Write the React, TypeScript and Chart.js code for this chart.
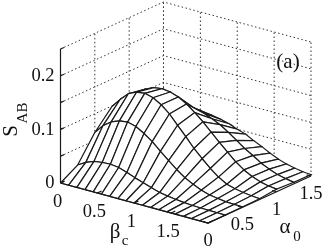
import React, { useEffect, useRef } from "react";
import { Chart, registerables } from "chart.js";

Chart.register(...registerables);

// surface heights S_AB, rows by alpha0, columns by beta_c
const alphaGrid = [0, 0.25, 0.5, 0.75, 1, 1.25, 1.5];
const betaGrid = [0, 0.111, 0.222, 0.333, 0.444, 0.556, 0.667, 0.778, 0.889, 1, 1.111, 1.222, 1.333, 1.444, 1.556, 1.667, 1.778, 1.889, 2];
const sAlpha000 = [0, 0, 0, 0, 0, 0, 0, 0, 0, 0, 0, 0, 0, 0, 0, 0, 0, 0, 0];
const sAlpha025 = [0.019, 0.028, 0.034, 0.036, 0.037, 0.035, 0.03, 0.024, 0.019, 0.014, 0.009, 0.0065, 0.0043, 0.0026, 0.0015, 0.0009, 0.0006, 0.0004, 0.0002];
const sAlpha050 = [0.065, 0.082, 0.093, 0.099, 0.101, 0.097, 0.088, 0.077, 0.063, 0.05, 0.037, 0.026, 0.018, 0.011, 0.0065, 0.004, 0.002, 0.0013, 0.0007];
const sAlpha075 = [0.099, 0.116, 0.131, 0.138, 0.14, 0.136, 0.127, 0.114, 0.097, 0.08, 0.062, 0.047, 0.033, 0.021, 0.012, 0.0075, 0.0047, 0.0028, 0.0015];
const sAlpha100 = [0.106, 0.116, 0.125, 0.132, 0.134, 0.132, 0.127, 0.118, 0.106, 0.093, 0.078, 0.063, 0.049, 0.035, 0.024, 0.016, 0.01, 0.0065, 0.0047];
const sAlpha125 = [0.099, 0.099, 0.099, 0.097, 0.095, 0.093, 0.09, 0.086, 0.08, 0.073, 0.063, 0.052, 0.041, 0.032, 0.022, 0.015, 0.009, 0.0056, 0.0028];
const sAlpha150 = [0.086, 0.078, 0.073, 0.069, 0.067, 0.065, 0.063, 0.06, 0.056, 0.05, 0.045, 0.037, 0.03, 0.022, 0.015, 0.01, 0.0065, 0.0037, 0.0028];
const surface = [sAlpha000, sAlpha025, sAlpha050, sAlpha075, sAlpha100, sAlpha125, sAlpha150];

const betaTicks = [0, 0.5, 1, 1.5, 2];
const betaLabels = ["0", "0.5", "1", "1.5", ""];
const alphaTicks = [0, 0.5, 1, 1.5];
const alphaLabels = ["0", "0.5", "1", "1.5"];
const zTicks = [0, 0.05, 0.1, 0.15, 0.2, 0.25];
const zLabels: Record<string, string> = { "0": "0", "0.1": "0.1", "0.2": "0.2" };

const BMAX = 2, AMAX = 1.5, ZMAX = 0.25;
// orthographic projection of (beta, alpha, z) into the scale's 327x250 plane
const project = (b: number, a: number, z: number) => ({
  x: 60.5 + (b / BMAX) * 147.5 + (a / AMAX) * 103,
  y: 183 + (b / BMAX) * 40 - (a / AMAX) * 47 - (z / ZMAX) * 134,
});

const INK = "#1a1a1a";
const line = (pts: { x: number; y: number }[], o: any = {}) => ({
  data: pts, showLine: true, pointRadius: 0, borderColor: INK, borderWidth: 1.2, tension: 0, fill: false, clip: false, ...o,
});

function buildDatasets() {
  const out: any[] = [];
  // axes lines and ticks (on top)
  out.push(line([project(0, 0, 0), project(0, 0, ZMAX)]));
  out.push(line([project(0, 0, 0), project(BMAX, 0, 0), project(BMAX, AMAX, 0)]));
  zTicks.forEach((z) => out.push(line([project(0, 0, z), project(0, 0.05, z)])));
  betaTicks.forEach((b) => out.push(line([project(b, 0, 0), project(b, 0.06, 0)])));
  alphaTicks.forEach((a) => out.push(line([project(BMAX, a, 0), project(BMAX - 0.06, a, 0)])));
  // surface quads, nearest first so the farthest paint first
  for (let i = 0; i < alphaGrid.length - 1; i++) {
    for (let j = betaGrid.length - 2; j >= 0; j--) {
      const q = [
        project(betaGrid[j], alphaGrid[i], surface[i][j]),
        project(betaGrid[j + 1], alphaGrid[i], surface[i][j + 1]),
        project(betaGrid[j + 1], alphaGrid[i + 1], surface[i + 1][j + 1]),
        project(betaGrid[j], alphaGrid[i + 1], surface[i + 1][j]),
      ];
      out.push(line([...q, q[0]], { fill: "shape", backgroundColor: "#ffffff" }));
    }
  }
  // dotted walls
  const dot = { borderDash: [1.5, 2.5], borderWidth: 1, borderColor: "#333333" };
  zTicks.slice(1).forEach((z) => {
    out.push(line([project(0, 0, z), project(0, AMAX, z), project(BMAX, AMAX, z)], dot));
  });
  [0.5, 1, 1.5].forEach((a) => out.push(line([project(0, a, 0), project(0, a, ZMAX)], dot)));
  [0, 0.5, 1, 1.5, 2].forEach((b) => out.push(line([project(b, AMAX, 0), project(b, AMAX, ZMAX)], dot)));
  return out;
}

const labelsPlugin = {
  id: "labels3d",
  afterDraw(chart: any) {
    const { ctx, scales } = chart;
    const px = (p: { x: number; y: number }) => ({ x: scales.x.getPixelForValue(p.x), y: scales.y.getPixelForValue(p.y) });
    const serif = (s: number) => `${s}px "Liberation Serif"`;
    ctx.save();
    ctx.fillStyle = "#111111";
    ctx.textBaseline = "middle";
    ctx.font = serif(18.5);
    ctx.textAlign = "right";
    zTicks.forEach((z) => {
      const t = zLabels[String(z)];
      if (t) { const p = px(project(0, 0, z)); ctx.fillText(t, p.x - 6, p.y + 0.5); }
    });
    ctx.textAlign = "center";
    betaTicks.forEach((b, i) => {
      const p = px(project(b, 0, 0));
      ctx.fillText(betaLabels[i], p.x - 3, p.y + 19);
    });
    alphaTicks.forEach((a, i) => {
      const p = px(project(BMAX, a, 0));
      ctx.fillText(alphaLabels[i], p.x + 0, p.y + 18);
    });
    ctx.font = serif(21);
    ctx.fillText("(a)", 288, 62);
    ctx.font = serif(21);
    ctx.fillText("\u03b2", 115, 232);
    ctx.fillText("\u03b1", 285, 227);
    ctx.font = serif(15);
    ctx.fillText("c", 125, 241);
    ctx.fillText("0", 297, 237);
    ctx.save();
    ctx.translate(17, 130);
    ctx.rotate(-Math.PI / 2);
    ctx.font = serif(21);
    ctx.fillText("S", -1, -6);
    ctx.font = serif(15);
    ctx.fillText("AB", 17, 6);
    ctx.restore();
    ctx.restore();
  },
};

export default function App() {
  const ref = useRef<HTMLCanvasElement>(null);
  useEffect(() => {
    const chart = new Chart(ref.current as HTMLCanvasElement, {
      type: "scatter",
      data: { datasets: buildDatasets() },
      plugins: [labelsPlugin],
      options: {
        animation: false,
        responsive: false,
        layout: { padding: 0 },
        plugins: { legend: { display: false }, tooltip: { enabled: false }, title: { display: false } },
        scales: {
          x: { type: "linear", min: 0, max: 327, display: false },
          y: { type: "linear", min: 0, max: 250, reverse: true, display: false },
        },
      },
    } as any);
    return () => chart.destroy();
  }, []);
  return (
    <div style={{ position: "fixed", left: 0, top: 0, width: 327, height: 250, background: "#fff" }}>
      <canvas ref={ref} width={327} height={250} style={{ display: "block" }} />
    </div>
  );
}
